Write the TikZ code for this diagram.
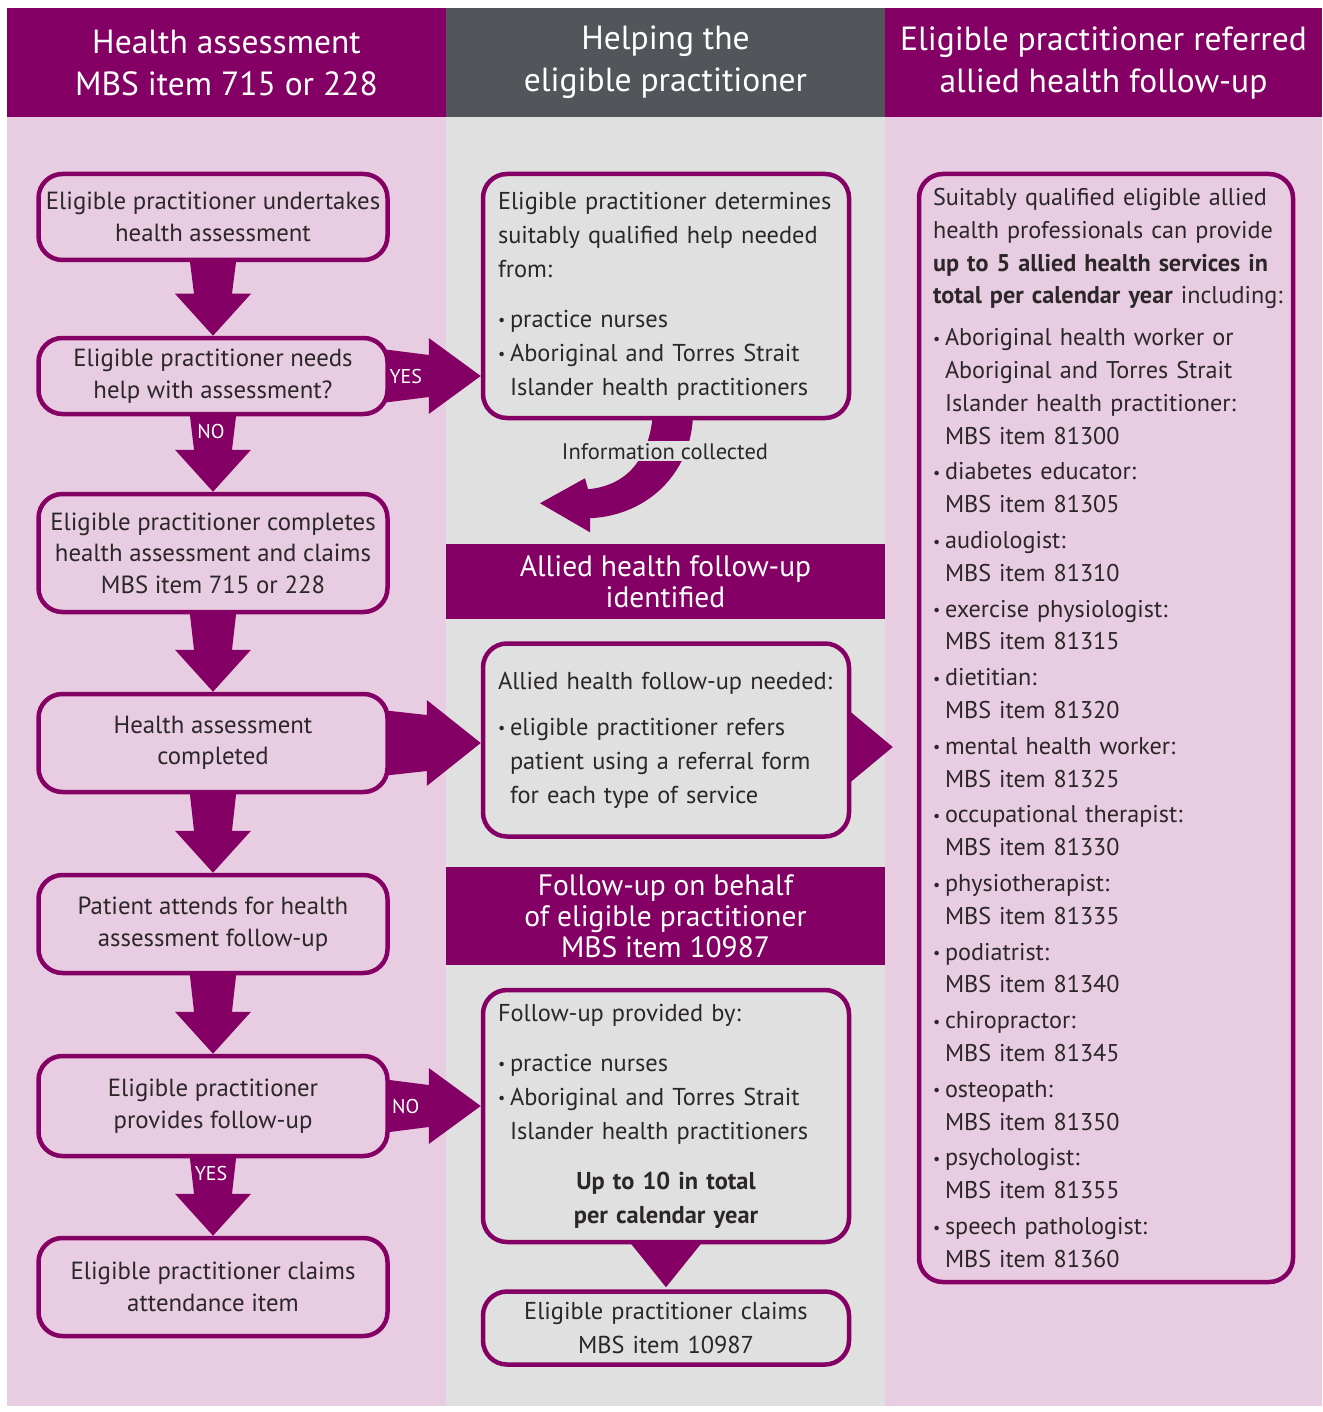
\documentclass[tikz,border=0pt]{standalone}
\usepackage{fontspec}
\setmainfont{PT Sans}
\usetikzlibrary{calc}
\pgfdeclarelayer{back}
\pgfdeclarelayer{bg}
\pgfsetlayers{back,bg,main}
\definecolor{mbspurple}{HTML}{850064}
\definecolor{pinkbg}{HTML}{E8CCE1}
\definecolor{grayhead}{HTML}{525559}
\definecolor{graybg}{HTML}{E0E0E1}
\definecolor{txt}{HTML}{2B2728}
\newcommand\fshead{\fontsize{33.5}{42}\selectfont}
\newcommand\fsband{\fontsize{29.5}{31}\selectfont}
\newcommand\fsleft{\fontsize{24.8}{31.5}\selectfont}
\newcommand\fsmid{\fontsize{24.4}{34}\selectfont}
\newcommand\fsright{\fontsize{24.2}{32.8}\selectfont}
\newcommand\fslab{\fontsize{20}{22}\selectfont}
\newcommand\fsinfo{\fontsize{22.5}{24}\selectfont}
\newcommand\bul{\makebox[12pt][l]{\raisebox{1.5pt}{\fontsize{16}{16}\selectfont •}}}
\newcommand\ind{\hspace*{12pt}}
\newcommand\downarr[3]{%
  \fill[mbspurple] ($(#1.south)+(-24,-8)$) -- ($(#1.south)+(24,-8)$) --
    ($(#2.north)+(19,-42)$) -- ($(#2.north)+(38,-42)$) -- (#2.north) --
    ($(#2.north)+(-38,-42)$) -- ($(#2.north)+(-19,-42)$) -- cycle;
  \node[lab] (#1-dlab) at ($(#1.south)+(-2,15)$) {#3};}
\newcommand\rightarr[7]{%
  \coordinate (#1-tip) at (#2.west |- #1.east);
  \fill[mbspurple] ($(#1.east)+(-8,-#3)$) -- ($(#1-tip)+(-#6,-#4)$) --
    ($(#1-tip)+(-#6,-#5)$) -- (#1-tip) -- ($(#1-tip)+(-#6,#5)$) --
    ($(#1-tip)+(-#6,#4)$) -- ($(#1.east)+(-8,#3)$) -- cycle;
  \node[lab] (#1-rlab) at ($(#1.east)+(16,0)$) {#7};}
\begin{document}
\begin{tikzpicture}[x=1pt,y=-1pt,
  head/.style={text=white, font=\fshead, align=center, inner sep=0pt, minimum height=109pt},
  band/.style={fill=mbspurple, text=white, font=\fsband, align=center, inner sep=0pt, minimum width=439pt},
  lbox/.style={draw=mbspurple, line width=4.5pt, fill=pinkbg, rounded corners=24pt,
    minimum width=349pt, align=center, text=txt, font=\fsleft, inner sep=0pt},
  mbox/.style={draw=mbspurple, line width=4.5pt, fill=graybg, rounded corners=24pt,
    minimum width=366pt, text width=336pt, inner xsep=15pt, inner ysep=0pt, align=left, text=txt, font=\fsmid},
  rbox/.style={draw=mbspurple, line width=4.5pt, fill=pinkbg, rounded corners=24pt,
    minimum width=374pt, text width=346pt, inner xsep=14pt, inner ysep=0pt, align=left, text=txt, font=\fsright},
  lab/.style={text=white, font=\fslab, inner sep=0pt},
  infolab/.style={fill=graybg, text=txt, font=\fsinfo, inner sep=2pt}
]
\useasboundingbox (0,0) rectangle (1322,1412);
\begin{pgfonlayer}{back}
  \fill[white] (0,0) rectangle (1322,1412);
  \fill[pinkbg] (7,117) rectangle (446,1406);
  \fill[graybg] (446,117) rectangle (885,1406);
  \fill[pinkbg] (885,117) rectangle (1322,1406);
\end{pgfonlayer}

% headers
\node[head, fill=mbspurple, minimum width=439pt] (h1) at (226.5,62.5) {Health assessment\\MBS item 715 or 228};
\node[head, fill=grayhead, minimum width=439pt] (h2) at (665.5,62.5) {Helping the\\eligible practitioner};
\node[head, fill=mbspurple, minimum width=437pt] (h3) at (1103.5,62.5) {Eligible practitioner referred\\allied health follow-up};

% left column
\node[lbox, minimum height=86pt] (l1) at (213,217) {Eligible practitioner undertakes\\health assessment};
\node[lbox, minimum height=76pt] (l2) at (213,376) {Eligible practitioner needs\\help with assessment?};
\node[lbox, minimum height=118pt] (l3) at (213,553) {Eligible practitioner completes\\health assessment and claims\\MBS item 715 or 228};
\node[lbox, minimum height=98pt] (l4) at (213,743) {Health assessment\\completed};
\node[lbox, minimum height=98pt] (l5) at (213,924) {Patient attends for health\\assessment follow-up};
\node[lbox, minimum height=100pt] (l6) at (213,1106) {Eligible practitioner\\provides follow-up};
\node[lbox, minimum height=98pt] (l7) at (213,1287) {Eligible practitioner claims\\attendance item};

% middle column
\node[mbox, minimum height=244pt] (A) at (666,296) {Eligible practitioner determines\\suitably qualified help needed\\from:\\[16pt]\bul practice nurses\\\bul Aboriginal and Torres Strait\\\ind Islander health practitioners};
\node[band, minimum height=75pt] (bd1) at (665.5,581.5) {Allied health follow-up\\identified};
\node[mbox, minimum height=193pt] (B) at (666,740) {Allied health follow-up needed:\\[12pt]\bul eligible practitioner refers\\\ind patient using a referral form\\\ind for each type of service};
\node[band, minimum height=98pt] (bd2) at (665.5,916) {Follow-up on behalf\\of eligible practitioner\\MBS item 10987};
\node[mbox, minimum height=252pt] (C) at (666,1116) {Follow-up provided by:\\[16pt]\bul practice nurses\\\bul Aboriginal and Torres Strait\\\ind Islander health practitioners\\[16pt]\makebox[336pt][c]{\bfseries Up to 10 in total}\\\makebox[336pt][c]{\bfseries per calendar year}};
\node[mbox, minimum height=73pt, align=center] (D) at (666,1328) {Eligible practitioner claims\\MBS item 10987};

% right column
\node[rbox, minimum height=1108pt] (R) at (1106,728) {\mbox{Suitably qualified eligible allied}\\
\mbox{health professionals can provide}\\
\mbox{\textbf{up to 5 allied health services in}}\\
\mbox{\textbf{total per calendar year} including:}\\[9pt]
\bul Aboriginal health worker or\\
\ind Aboriginal and Torres Strait\\
\ind Islander health practitioner:\\
\ind MBS item 81300\\[3pt]
\bul diabetes educator:\\
\ind MBS item 81305\\[3pt]
\bul audiologist:\\
\ind MBS item 81310\\[3pt]
\bul exercise physiologist:\\
\ind MBS item 81315\\[3pt]
\bul dietitian:\\
\ind MBS item 81320\\[3pt]
\bul mental health worker:\\
\ind MBS item 81325\\[3pt]
\bul occupational therapist:\\
\ind MBS item 81330\\[3pt]
\bul physiotherapist:\\
\ind MBS item 81335\\[3pt]
\bul podiatrist:\\
\ind MBS item 81340\\[3pt]
\bul chiropractor:\\
\ind MBS item 81345\\[3pt]
\bul osteopath:\\
\ind MBS item 81350\\[3pt]
\bul psychologist:\\
\ind MBS item 81355\\[3pt]
\bul speech pathologist:\\
\ind MBS item 81360};

% info label
\node[infolab] (info) at ($(A.south)+(-1,31)$) {Information collected};

% connectors (behind boxes)
\begin{pgfonlayer}{bg}
  \downarr{l1}{l2}{}
  \downarr{l2}{l3}{NO}
  \downarr{l3}{l4}{}
  \downarr{l4}{l5}{}
  \downarr{l5}{l6}{}
  \downarr{l6}{l7}{YES}
  \rightarr{l2}{A}{27}{21}{38}{52}{YES}
  \rightarr{l4}{B}{33}{28}{43}{54}{}
  \rightarr{l6}{C}{27}{21}{38}{52}{NO}
  \fill[mbspurple] ($(B.east)+(-3,-30)$) -- ($(R.west |- B.east)+(-24,7)$) -- ($(B.east)+(-3,44)$) -- cycle;
  \fill[mbspurple] ($(C.south)+(-37,-3)$) -- ($(C.south)+(37,-3)$) -- ($(D.north)+(0,-2)$) -- cycle;
  \fill[mbspurple] ($(A.south)+(-13,-8)$) .. controls ($(A.south)+(-16,35)$) and ($(A.south)+(-36,65)$) .. ($(A.south)+(-78,69)$)
    -- ($(A.south)+(-81,58)$) -- ($(A.south)+(-126,83)$) -- ($(A.south)+(-76,112)$) -- ($(A.south)+(-76,98)$)
    .. controls ($(A.south)+(-16,95)$) and ($(A.south)+(27,50)$) .. ($(A.south)+(27,-8)$) -- cycle;
\end{pgfonlayer}
\end{tikzpicture}
\end{document}
